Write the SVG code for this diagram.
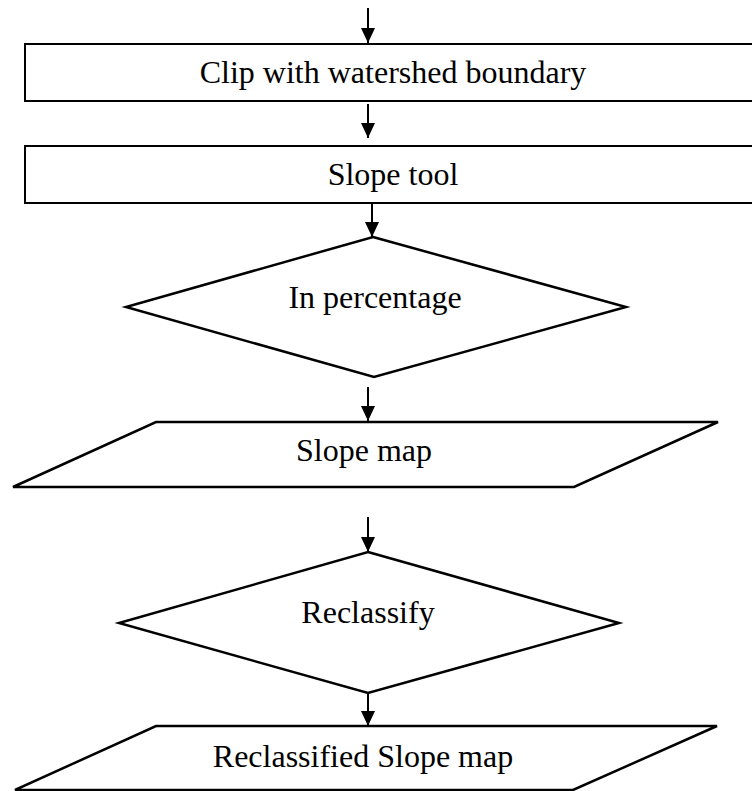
<svg xmlns="http://www.w3.org/2000/svg" width="752" height="791" viewBox="0 0 752 791">
  <defs>
    <style>
      .shape { fill: #fff; stroke: #000; stroke-width: 2.5; stroke-linejoin: miter; }
      .box { fill: #fff; stroke: #000; stroke-width: 2; }
      .label { font-family: "Liberation Serif", "Times New Roman", serif; font-size: 32px; fill: #000; text-anchor: middle; }
      .flow { stroke: #000; stroke-width: 2; fill: none; marker-end: url(#head); }
    </style>
    <marker id="head" markerUnits="userSpaceOnUse" markerWidth="16" markerHeight="16" refX="15" refY="7" orient="auto">
      <path d="M0,0 L15,7 L0,14 Z" fill="#000"/>
    </marker>
  </defs>
  <rect width="752" height="791" fill="#fff"/>

  <!-- flow connectors -->
  <g id="connectors">
    <line class="flow" x1="368" y1="8" x2="368" y2="43"/>
    <line class="flow" x1="368" y1="104" x2="368" y2="138"/>
    <line class="flow" x1="372" y1="203" x2="372" y2="237"/>
    <line class="flow" x1="368" y1="387" x2="368" y2="421"/>
    <line class="flow" x1="368" y1="517" x2="368" y2="552"/>
    <line class="flow" x1="368" y1="693" x2="368" y2="726"/>
  </g>

  <g id="clip">
    <rect class="box" x="25" y="44" width="740" height="57"/>
    <text class="label" x="393" y="83">Clip with watershed boundary</text>
  </g>

  <g id="slope-tool">
    <rect class="box" x="25" y="146" width="740" height="57"/>
    <text class="label" x="393" y="185">Slope tool</text>
  </g>

  <g id="in-percentage">
    <polygon class="shape" points="373,237 626,307 374,377 126,307"/>
    <text class="label" x="375" y="308">In percentage</text>
  </g>

  <g id="slope-map">
    <polygon class="shape" points="156,422 718,422 574,487 13,487"/>
    <text class="label" x="364" y="461">Slope map</text>
  </g>

  <g id="reclassify">
    <polygon class="shape" points="368,552 619,623 368,693 119,623"/>
    <text class="label" x="368" y="623">Reclassify</text>
  </g>

  <g id="reclassified-slope-map">
    <polygon class="shape" points="156,726 717,726 573,790 15,790"/>
    <text class="label" x="363" y="767">Reclassified Slope map</text>
  </g>
</svg>
